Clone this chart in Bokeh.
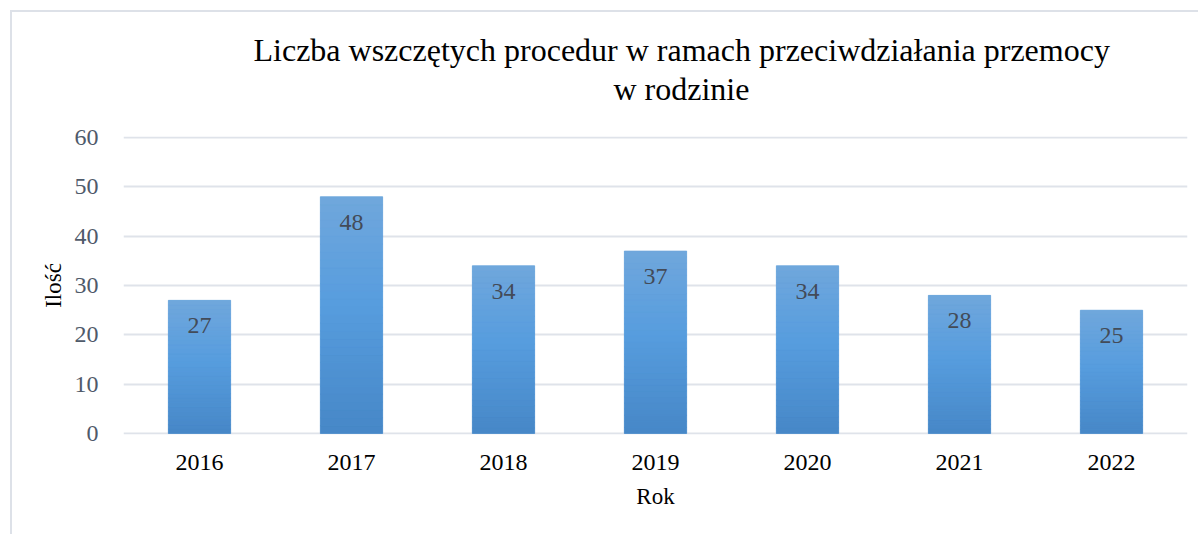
from bokeh.plotting import figure
from bokeh.models import Range1d, Title, FixedTicker
from bokeh.core.properties import value
from bokeh.embed import file_html
from bokeh.resources import INLINE

years = ["2016", "2017", "2018", "2019", "2020", "2021", "2022"]
counts = [27, 48, 34, 37, 34, 28, 25]
y_ticks = [0, 10, 20, 30, 40, 50, 60]
title_line1 = "Liczba wszczętych procedur w ramach przeciwdziałania przemocy"
title_line2 = "w rodzinie"
x_label = "Rok"
y_label = "Ilość"

FONT = "'Liberation Serif', 'Times New Roman', serif"
M = 12  # canvas origin on the page (margin + border)

p = figure(width=1188, height=524, x_range=years, y_range=Range1d(-0.2, 60.2),
           output_backend="svg", toolbar_location=None,
           min_border_left=123 - M, min_border_right=1188 + M - 1187,
           min_border_top=136 - M, min_border_bottom=524 + M - 434)
p.styles = {"margin-left": "10px", "margin-top": "10px",
            "border-left": "2px solid #dde1e8", "border-top": "2px solid #dde1e8"}
p.outline_line_color = None
p.background_fill_color = "white"
p.border_fill_color = "white"

# titles (p.title is the outer line, the added one sits next to the frame)
p.title.text = title_line1
p.title.align = "left"
p.title.offset = 130
p.title.text_font = FONT
p.title.text_font_size = "32px"
p.title.text_font_style = "normal"
p.title.text_color = "black"
p.title.standoff = -58
t2 = Title(text=title_line2, align="left", offset=490, text_font=FONT,
           text_font_size="32px", text_font_style="normal", text_color="black", standoff=60)
p.add_layout(t2, "above")

# gradient bars (slices of each bar)
stops = [(0.0, (0x47, 0x87, 0xC7)), (0.55, (0x57, 0x9D, 0xDE)), (1.0, (0x70, 0xA7, 0xDC))]

def grad(t):
    for (t0, c0), (t1_, c1) in zip(stops[:-1], stops[1:]):
        if t <= t1_:
            f = (t - t0) / (t1_ - t0)
            return "#%02x%02x%02x" % tuple(int(round(a + (b - a) * f)) for a, b in zip(c0, c1))
    return "#%02x%02x%02x" % stops[-1][1]

N = 30
p.vbar(x=years, top=counts, width=0.41, fill_color="#579dde", line_color=None)
for i in range(N):
    c = grad((i + 0.5) / N)
    p.vbar(x=years, bottom=[v * i / N for v in counts], top=[v * (i + 1) / N for v in counts],
           width=0.41, fill_color=c, line_color=c, line_width=0.6)

# data labels
p.text(x=years, y=counts, text=[str(v) for v in counts], text_align="center",
       text_baseline="top", y_offset=18, text_font=value(FONT), text_font_size="24px",
       text_color="#434b58")

# axes
p.yaxis.ticker = FixedTicker(ticks=y_ticks)
p.ygrid.ticker = FixedTicker(ticks=y_ticks)
p.xgrid.grid_line_color = None
p.ygrid.grid_line_color = "#dfe3ea"
p.ygrid.grid_line_width = 2

for ax in (p.xaxis, p.yaxis):
    ax.axis_line_color = None
    ax.major_tick_line_color = None
    ax.minor_tick_line_color = None
    ax.major_label_text_font = FONT
    ax.axis_label_text_font = FONT
    ax.axis_label_text_font_style = "normal"
    ax.axis_label_text_color = "black"

p.yaxis.major_label_text_font_size = "24px"
p.yaxis.major_label_text_color = "#4f5a6a"
p.yaxis.major_label_standoff = 19
p.yaxis.axis_label = y_label
p.yaxis.axis_label_text_font_size = "23px"
p.yaxis.axis_label_standoff = 6

p.xaxis.major_label_text_font_size = "24px"
p.xaxis.major_label_text_color = "black"
p.xaxis.major_label_standoff = 14
p.xaxis.axis_label = x_label
p.xaxis.axis_label_text_font_size = "23px"
p.xaxis.axis_label_standoff = 11

p.x_range.range_padding = 0.0

open("out.html", "w").write(file_html(p, INLINE))
